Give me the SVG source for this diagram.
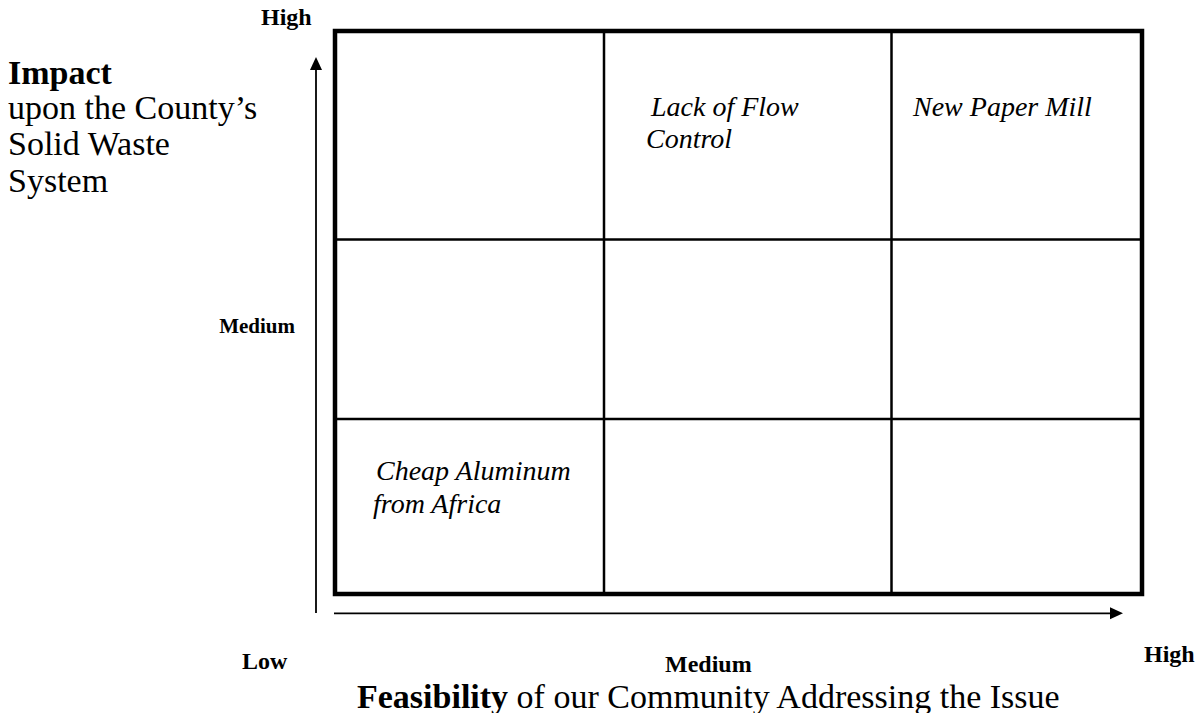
<svg xmlns="http://www.w3.org/2000/svg" width="1202" height="713" viewBox="0 0 1202 713">
<style>
.b{font-family:"Liberation Serif","Times New Roman",serif;font-weight:bold;font-size:24px;fill:#000}
.r{font-family:"Liberation Serif","Times New Roman",serif;font-size:34px;fill:#000}
.i{font-family:"Liberation Serif","Times New Roman",serif;font-style:italic;font-size:28px;fill:#000}
.grid{stroke:#000;stroke-width:2.5;fill:none}
.axis{stroke:#000;stroke-width:1.8;fill:none}
</style>
<rect width="1202" height="713" fill="#fff"/>
<g id="matrix">
<rect x="335" y="31" width="807" height="563" fill="none" stroke="#000" stroke-width="4.5"/>
<line class="grid" x1="604" y1="31" x2="604" y2="594"/>
<line class="grid" x1="891.5" y1="31" x2="891.5" y2="594"/>
<line class="grid" x1="335" y1="239.5" x2="1142" y2="239.5"/>
<line class="grid" x1="335" y1="419" x2="1142" y2="419"/>
</g>
<g id="connectors">
<line class="axis" x1="316" y1="613" x2="316" y2="68"/>
<polygon points="316,57 310,70 322,70" fill="#000"/>
<line class="axis" x1="334" y1="613.3" x2="1112" y2="613.3"/>
<polygon points="1123,613.3 1110,607.3 1110,619.3" fill="#000"/>
</g>
<g id="label-high-top"><text class="b" x="261" y="25">High</text></g>
<g id="label-impact">
<text class="r" x="8" y="84" font-weight="bold">Impact</text>
<text class="r" x="8" y="119">upon the County’s</text>
<text class="r" x="8" y="155">Solid Waste</text>
<text class="r" x="8" y="192">System</text>
</g>
<g id="label-medium-left"><text class="b" x="295" y="333" text-anchor="end" style="font-size:21px">Medium</text></g>
<g id="label-low"><text class="b" x="242" y="669">Low</text></g>
<g id="label-medium-bottom"><text class="b" x="665" y="672">Medium</text></g>
<g id="label-high-right"><text class="b" x="1144" y="662">High</text></g>
<g id="label-feasibility"><text class="r" x="357" y="708"><tspan font-weight="bold">Feasibility</tspan> of our Community Addressing the Issue</text></g>
<g id="cell-flow"><text class="i" x="651" y="116">Lack of Flow</text><text class="i" x="646" y="148">Control</text></g>
<g id="cell-paper"><text class="i" x="913" y="116">New Paper Mill</text></g>
<g id="cell-aluminum"><text class="i" x="376" y="480">Cheap Aluminum</text><text class="i" x="373" y="513">from Africa</text></g>
</svg>
